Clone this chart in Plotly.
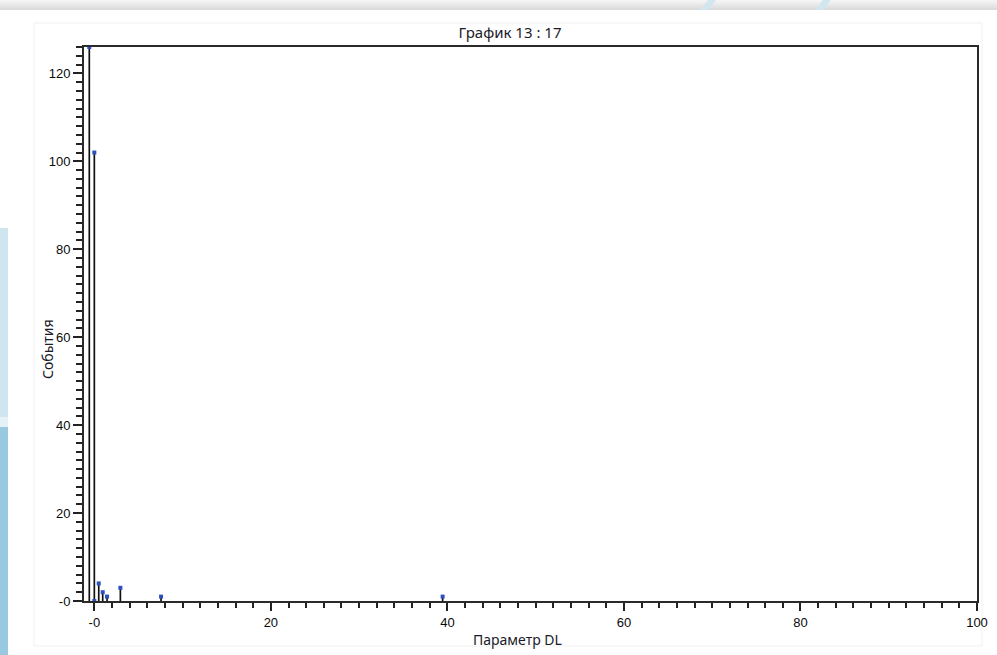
import plotly.graph_objects as go

# Data
dl_values = [-0.57, 0.0, 0.0, 0.5, 0.95, 1.44, 2.95, 7.56, 39.46]
event_counts = [126, 102, 0, 4, 2, 1, 3, 1, 1]

x_tick_vals = [0, 20, 40, 60, 80, 100]
x_tick_text = ["-0", "20", "40", "60", "80", "100"]
y_tick_vals = [0, 20, 40, 60, 80, 100, 120]
y_tick_text = ["-0", "20", "40", "60", "80", "100", "120"]

title_text = "График 13 : 17"
x_title = "Параметр DL"
y_title = "События"

W, H = 997, 655
L, R, T, B = 84, 20, 47, 54

fig = go.Figure()
fig.add_trace(go.Scatter(
    x=dl_values, y=event_counts, mode="markers",
    marker=dict(symbol="square", size=4, color="#2b50c0"),
    error_y=dict(type="data", symmetric=False,
                 array=[0] * len(event_counts), arrayminus=event_counts,
                 width=0, thickness=1.7, color="#111111"),
    cliponaxis=False, showlegend=False, hoverinfo="x+y",
))

tickfont = dict(family="Liberation Sans, Arial, sans-serif", size=13, color="#0a0a0a")

fig.update_xaxes(
    range=[-1.17, 100], showgrid=False, zeroline=False,
    showline=True, linecolor="#2a2a2a", linewidth=2, mirror=True,
    ticks="outside", ticklen=8, tickwidth=1.8, tickcolor="#222",
    tickmode="array", tickvals=x_tick_vals, ticktext=x_tick_text,
    tickfont=tickfont,
    minor=dict(ticks="outside", tickmode="linear", tick0=0, dtick=2,
               ticklen=5, tickwidth=1.8, tickcolor="#222"),
)
fig.update_yaxes(
    range=[0, 126], showgrid=False, zeroline=False,
    showline=True, linecolor="#2a2a2a", linewidth=2, mirror=True,
    ticks="outside", ticklen=9, tickwidth=1.8, tickcolor="#222",
    tickmode="array", tickvals=y_tick_vals, ticktext=y_tick_text,
    tickfont=tickfont,
    minor=dict(ticks="outside", tickmode="linear", tick0=0, dtick=2,
               ticklen=6, tickwidth=1.8, tickcolor="#222"),
)

pw, ph = W - L - R, H - T - B

def px_x(p):
    return (p - L) / pw

def px_y(p):
    return (H - B - p) / ph

annotations = [
    dict(text=x_title, xref="paper", yref="paper", x=px_x(517), y=px_y(639),
         xanchor="center", yanchor="middle", showarrow=False,
         font=dict(family="Noto Sans, Open Sans, sans-serif", size=14, color="#1a1a2a")),
    dict(text=y_title, xref="paper", yref="paper", x=px_x(47), y=px_y(349),
         xanchor="center", yanchor="middle", showarrow=False, textangle=-90,
         font=dict(family="Noto Sans, Open Sans, sans-serif", size=14, color="#1a1a2a")),
]

# decorative page background (outside the chart card)
shapes = []
gray_steps = ["#f4f4f4", "#eeeeee", "#e8e8e8", "#e2e2e2", "#dcdcdc"]
for i, c in enumerate(gray_steps):
    shapes.append(dict(type="rect", xref="paper", yref="paper", layer="below",
                       x0=px_x(0), x1=px_x(W), y0=px_y(2 * i), y1=px_y(2 * i + 2),
                       line=dict(width=0), fillcolor=c))
shapes.append(dict(type="rect", xref="paper", yref="paper", layer="below",
                   x0=px_x(0), x1=px_x(8), y0=px_y(228), y1=px_y(417),
                   line=dict(width=0), fillcolor="#cfe6f0"))
shapes.append(dict(type="rect", xref="paper", yref="paper", layer="below",
                   x0=px_x(0), x1=px_x(8), y0=px_y(427), y1=px_y(H),
                   line=dict(width=0), fillcolor="#98c9de"))
shapes.append(dict(type="rect", xref="paper", yref="paper", layer="below",
                   x0=px_x(0), x1=px_x(8), y0=px_y(417), y1=px_y(427),
                   line=dict(width=0), fillcolor="#e4f1f6"))
for xa in (700, 815):
    shapes.append(dict(type="path", xref="paper", yref="paper", layer="below",
                       path=f"M {px_x(xa)} {px_y(10)} L {px_x(xa + 8)} {px_y(0)} "
                            f"L {px_x(xa + 16)} {px_y(0)} L {px_x(xa + 8)} {px_y(10)} Z",
                       line=dict(width=0), fillcolor="#d2e6f0"))
shapes.append(dict(type="rect", xref="paper", yref="paper", layer="below",
                   x0=px_x(34), x1=px_x(982), y0=px_y(23), y1=px_y(646),
                   line=dict(width=1, color="#f1f1f1"), fillcolor="rgba(0,0,0,0)"))

fig.update_layout(
    width=W, height=H,
    margin=dict(l=L, r=R, t=T, b=B, autoexpand=False),
    paper_bgcolor="white", plot_bgcolor="white",
    title=dict(text=title_text, xref="container", yref="container",
               x=510 / W, y=1 - 33 / H, xanchor="center", yanchor="middle",
               font=dict(family="Noto Sans, Open Sans, sans-serif", size=15, color="#1a1a2a")),
    annotations=annotations, shapes=shapes,
)

fig.write_html(
    "out.html",
    config={"displayModeBar": False},
    post_script="document.body.style.margin='0';document.body.style.overflow='hidden';",
)
